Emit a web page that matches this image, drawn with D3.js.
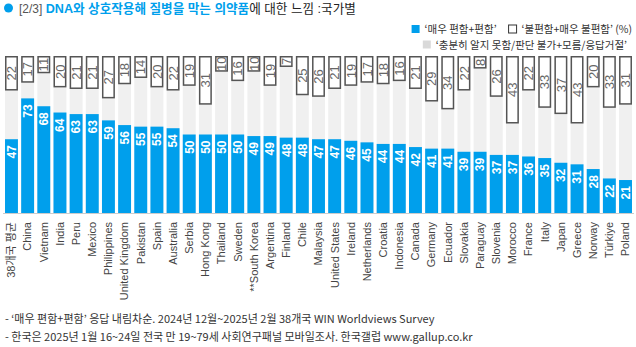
<!DOCTYPE html>
<html><head><meta charset="utf-8">
<script src="https://cdn.jsdelivr.net/npm/d3@7"></script>
<style>
html,body{margin:0;padding:0;background:#fff;}
svg{display:block;}
</style></head>
<body>
<svg id="chart" width="636" height="347"></svg>
<script>
const categories = ["38개국 평균","China","Vietnam","India","Peru","Mexico","Philippines","United Kingdom","Pakistan","Spain","Australia","Serbia","Hong Kong","Thailand","Sweden","**South Korea","Argentina","Finland","Chile","Malaysia","United States","Ireland","Netherlands","Croatia","Indonesia","Canada","Germany","Ecuador","Slovakia","Paraguay","Slovenia","Morocco","France","Italy","Japan","Greece","Norway","Türkiye","Poland"];
const comfortable = [47,73,68,64,63,63,59,56,55,55,54,50,50,50,50,49,49,48,48,47,47,46,45,44,44,42,41,41,39,39,37,37,36,35,32,31,28,22,21];
const uncomfortable = [22,17,11,20,21,21,27,18,14,20,22,19,31,10,16,10,19,7,25,26,21,19,17,18,16,21,29,34,22,8,26,43,22,33,37,43,20,33,31];
const legendLabels = ["‘매우 편함+편함’","‘불편함+매우 불편함’ (%)","‘충분히 알지 못함/판단 불가+모름/응답거절’"];
const footnotes = ["- ‘매우 편함+편함’ 응답 내림차순. 2024년 12월~2025년 2월 38개국 WIN Worldviews Survey","- 한국은 2025년 1월 16~24일 전국 만 19~79세 사회연구패널 모바일조사. 한국갤럽 www.gallup.co.kr"];

const BLUE = "#009fec";
const FONT = "'Liberation Sans', 'Noto Sans CJK KR', sans-serif";
const svg = d3.select("#chart");
const data = categories.map((c,i)=>({c, pos: comfortable[i], neg: uncomfortable[i]}));

const x = d3.scaleBand().domain(categories).range([3.4, 633.6]).paddingInner(0.2).paddingOuter(0.1);
const y = d3.scaleLinear().domain([0,100]).range([213, 56]);

// title
svg.append("circle").attr("cx",8.5).attr("cy",8).attr("r",4.5).attr("fill",BLUE);
const t = svg.append("text").attr("x",19).attr("y",12.5).attr("font-family",FONT).attr("font-size",12.6);
t.append("tspan").attr("fill","#555").attr("font-size",12).text("[2/3] ");
t.append("tspan").attr("fill",BLUE).attr("font-weight","bold").text("DNA와 상호작용해 질병을 막는 의약품");
t.append("tspan").attr("fill","#222").text("에 대한 느낌 :국가별");

// columns
const g = svg.append("g");
const cols = g.selectAll("g.col").data(data).join("g").attr("class","col");
cols.append("rect").attr("x",d=>x(d.c)).attr("width",x.bandwidth())
  .attr("y",y(100)).attr("height",y(0)-y(100)).attr("fill","#f0f0f0");
cols.append("rect").attr("x",d=>x(d.c)).attr("width",x.bandwidth())
  .attr("y",d=>y(d.pos)).attr("height",d=>y(0)-y(d.pos)).attr("fill",BLUE);
cols.append("rect").attr("x",d=>x(d.c)+0.75).attr("width",x.bandwidth()-1.5)
  .attr("y",y(100)+0.75).attr("height",d=>y(100-d.neg)-y(100)-1.5)
  .attr("fill","#fff").attr("stroke","#555").attr("stroke-width",1.5);
// value labels
cols.append("text")
  .attr("transform",d=>`translate(${x(d.c)+x.bandwidth()/2},${y(d.pos)+6}) rotate(-90)`)
  .attr("text-anchor","end").attr("dy","0.36em")
  .attr("font-family",FONT).attr("font-size",12).attr("font-weight","bold").attr("fill","#fff")
  .text(d=>d.pos);
cols.append("text")
  .attr("transform",d=>`translate(${x(d.c)+x.bandwidth()/2},${(y(100)+y(100-d.neg))/2}) rotate(-90)`)
  .attr("text-anchor","middle").attr("dy","0.36em")
  .attr("font-family",FONT).attr("font-size",13).attr("fill","#666")
  .text(d=>d.neg);

// baseline
svg.append("line").attr("x1",3).attr("x2",634).attr("y1",y(0)+0.5).attr("y2",y(0)+0.5)
  .attr("stroke","#ccc").attr("stroke-width",1);

// category labels
svg.append("g").selectAll("text").data(categories).join("text")
  .attr("transform",c=>`translate(${x(c)+x.bandwidth()/2},222) rotate(-90)`)
  .attr("text-anchor","end").attr("dy","0.35em")
  .attr("font-family",FONT).attr("font-size",11).attr("fill","#444")
  .text(c=>c);

// legend
const LF = "'Noto Sans CJK KR', sans-serif";
const lg = svg.append("g").attr("font-family",LF).attr("font-size",10.5).attr("fill","#333");
const Y1 = 33, Y2 = 48.5;
let r1 = lg.append("text").attr("x",632).attr("y",Y1).attr("text-anchor","end").text(legendLabels[1]);
let w = r1.node().getComputedTextLength();
let xs = 632 - w - 5 - 8;
lg.append("rect").attr("x",xs).attr("y",Y1-8).attr("width",8).attr("height",8).attr("fill","#fff").attr("stroke","#333").attr("stroke-width",1);
let r0 = lg.append("text").attr("x",xs-12).attr("y",Y1).attr("text-anchor","end").text(legendLabels[0]);
w = r0.node().getComputedTextLength();
lg.append("rect").attr("x",xs-12-w-5-8).attr("y",Y1-8).attr("width",8).attr("height",8).attr("fill",BLUE);
let r2 = lg.append("text").attr("x",627).attr("y",Y2).attr("text-anchor","end").text(legendLabels[2]);
w = r2.node().getComputedTextLength();
lg.append("rect").attr("x",627-w-5-8).attr("y",Y2-8).attr("width",8).attr("height",8).attr("fill","#d9d9d9");

// footnotes
svg.append("g").selectAll("text").data(footnotes).join("text")
  .attr("x",5).attr("y",(d,i)=>323+i*18)
  .attr("font-family",LF).attr("font-size",11).attr("fill","#333")
  .text(d=>d);
</script>
</body></html>
